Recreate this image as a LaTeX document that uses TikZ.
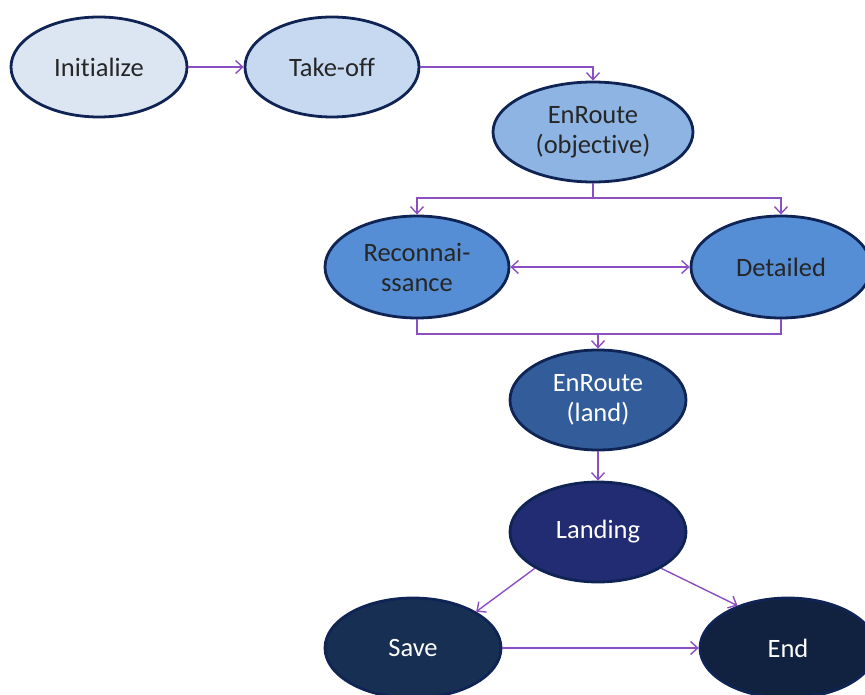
\documentclass[tikz,border=0pt]{standalone}
\usepackage{fontspec}
\setmainfont{Carlito}[Ligatures=NoCommon]
\usetikzlibrary{shapes.geometric,arrows.meta}

\definecolor{edgeblue}{HTML}{0F2454}
\definecolor{conncol}{HTML}{8A4FC2}
\definecolor{txtdark}{HTML}{262626}
\definecolor{fInit}{HTML}{DCE6F2}
\definecolor{fTake}{HTML}{C6D9F1}
\definecolor{fObj}{HTML}{8DB4E2}
\definecolor{fRecon}{HTML}{558ED5}
\definecolor{fLand}{HTML}{335D9A}
\definecolor{fLanding}{HTML}{212C72}
\definecolor{fSave}{HTML}{172F52}
\definecolor{fEnd}{HTML}{10223F}

\tikzset{
  state/.style={ellipse, draw=edgeblue, line width=2.8pt, inner sep=0pt,
    minimum width=176pt, minimum height=100pt, align=center,
    font=\fontsize{26.5}{30}\selectfont, text=txtdark},
  lightstate/.style={state},
  darkstate/.style={state, text=white},
  conn/.style={draw=conncol, line width=1.4pt,
    arrows={-Straight Barb[length=7pt,width=13pt]}},
  plain/.style={draw=conncol, line width=1.4pt},
}

\begin{document}
\begin{tikzpicture}[x=1pt,y=-1pt]
  \useasboundingbox (0,0) rectangle (865,695);
  \clip (0,0) rectangle (865,695);

  % states
  \node[lightstate, fill=fInit] (init) at (99,67) {Initialize};
  \node[lightstate, fill=fTake, minimum width=174pt] (takeoff) at (332,67) {Take-off};
  \node[lightstate, fill=fObj, minimum width=200pt] (enobj) at (593,132) {EnRoute\\(objective)};
  \node[lightstate, fill=fRecon, minimum width=184pt, minimum height=102pt] (recon) at (417,267) {Reconnai-\\ssance};
  \node[lightstate, fill=fRecon, minimum width=180pt, minimum height=102pt] (detailed) at (781,267) {Detailed};
  \node[darkstate, fill=fLand] (enland) at (598,400) {EnRoute\\(land)};
  \node[darkstate, fill=fLanding] (landing) at (598,532) {Landing};
  \node[darkstate, fill=fSave] (save) at (413,648) {Save};
  \node[darkstate, fill=fEnd] (endn) at (788,648) {End};

  % junction points of the orthogonal connectors
  \coordinate (split) at (593,198);
  \coordinate (merge) at (598,334);

  % transitions
  \draw[conn] (init) -- (takeoff);
  \draw[conn] (takeoff.east) -| (enobj.north);
  \draw[plain] (enobj.south) -- (split);
  \draw[conn] (split) -| (recon.north);
  \draw[conn] (split) -| (detailed.north);
  \draw[conn, arrows={Straight Barb[length=7pt,width=13pt]-Straight Barb[length=7pt,width=13pt]}] (recon.east) -- (detailed.west);
  \draw[plain] (recon.south) |- (merge) -| (detailed.south);
  \draw[conn] (merge) -- (enland.north);
  \draw[conn] (enland.south) -- (landing.north);
  \draw[conn] (landing.south west) -- (save.north east);
  \draw[conn] (landing.south east) -- (endn.140);
  \draw[conn] (save.east) -- (endn.west);
\end{tikzpicture}
\end{document}
